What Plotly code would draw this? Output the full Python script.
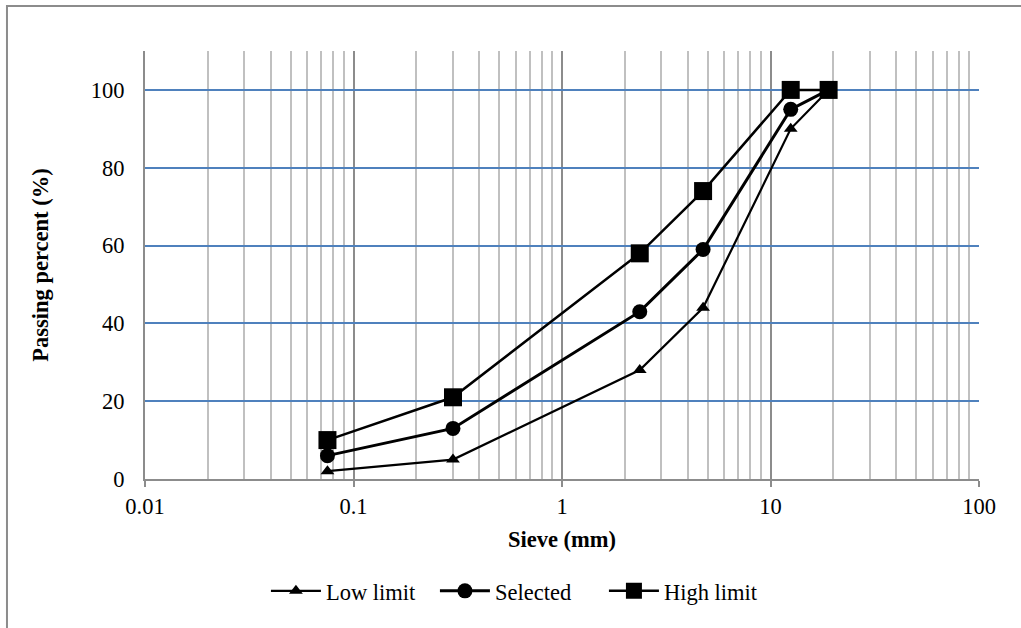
import plotly.graph_objects as go

sieve_mm = [0.075, 0.3, 2.36, 4.75, 12.5, 19]
low_limit = [2, 5, 28, 44, 90, 100]
selected = [6, 13, 43, 59, 95, 100]
high_limit = [10, 21, 58, 74, 100, 100]

FONT = "Liberation Serif"
FS = 22.5

fig = go.Figure()
fig.add_trace(go.Scatter(x=sieve_mm, y=low_limit, name="Low limit", mode="lines+markers",
                         line=dict(color="black", width=2.2),
                         marker=dict(symbol="triangle-up", size=12, color="black")))
fig.add_trace(go.Scatter(x=sieve_mm, y=selected, name="Selected", mode="lines+markers",
                         line=dict(color="black", width=3),
                         marker=dict(symbol="circle", size=15, color="black")))
fig.add_trace(go.Scatter(x=sieve_mm, y=high_limit, name="High limit", mode="lines+markers",
                         line=dict(color="black", width=2.5),
                         marker=dict(symbol="square", size=18, color="black")))

fig.update_layout(
    width=1021, height=628,
    margin=dict(l=145, r=42, t=51, b=149),
    paper_bgcolor="white", plot_bgcolor="white",
    font=dict(family=FONT, size=FS, color="black"),
    showlegend=True,
    legend=dict(orientation="h", x=0.145, xanchor="left", y=-0.212, yanchor="top",
                font=dict(family=FONT, size=FS), itemwidth=50,
                entrywidth=104, entrywidthmode="pixels"),
    xaxis=dict(
        type="log", range=[-2, 2], dtick=1,
        showgrid=True, gridcolor="#8C8C8C", gridwidth=1.5,
        showline=True, linecolor="#8C8C8C", linewidth=2,
        ticks="outside", ticklen=6, tickcolor="#8C8C8C", tickwidth=2,
        minor=dict(dtick="D1", showgrid=True, gridcolor="#C0C0C0", gridwidth=1.5, ticks=""),
        zeroline=False,
        tickfont=dict(family=FONT, size=FS),
        title=dict(text="<b>Sieve (mm)</b>", font=dict(family=FONT, size=FS), standoff=13),
    ),
    yaxis=dict(
        range=[0, 110], dtick=20, tick0=0,
        showgrid=True, gridcolor="#4F81BD", gridwidth=2,
        showline=True, linecolor="#8C8C8C", linewidth=2,
        ticks="", zeroline=False, ticklabelstandoff=14,
        tickfont=dict(family=FONT, size=FS),
        title=dict(text="<b>Passing percent (%)</b>", font=dict(family=FONT, size=FS), standoff=36),
    ),
    shapes=[
        dict(type="rect", xref="paper", yref="paper", x0=-0.1655, x1=1.07, y0=-0.45, y1=1.105,
             line=dict(color="#8C8C8C", width=2), fillcolor="rgba(0,0,0,0)", layer="below"),
    ],
)

fig.write_html("out.html", config={"displayModeBar": False},
               post_script="document.body.style.margin='0';")
